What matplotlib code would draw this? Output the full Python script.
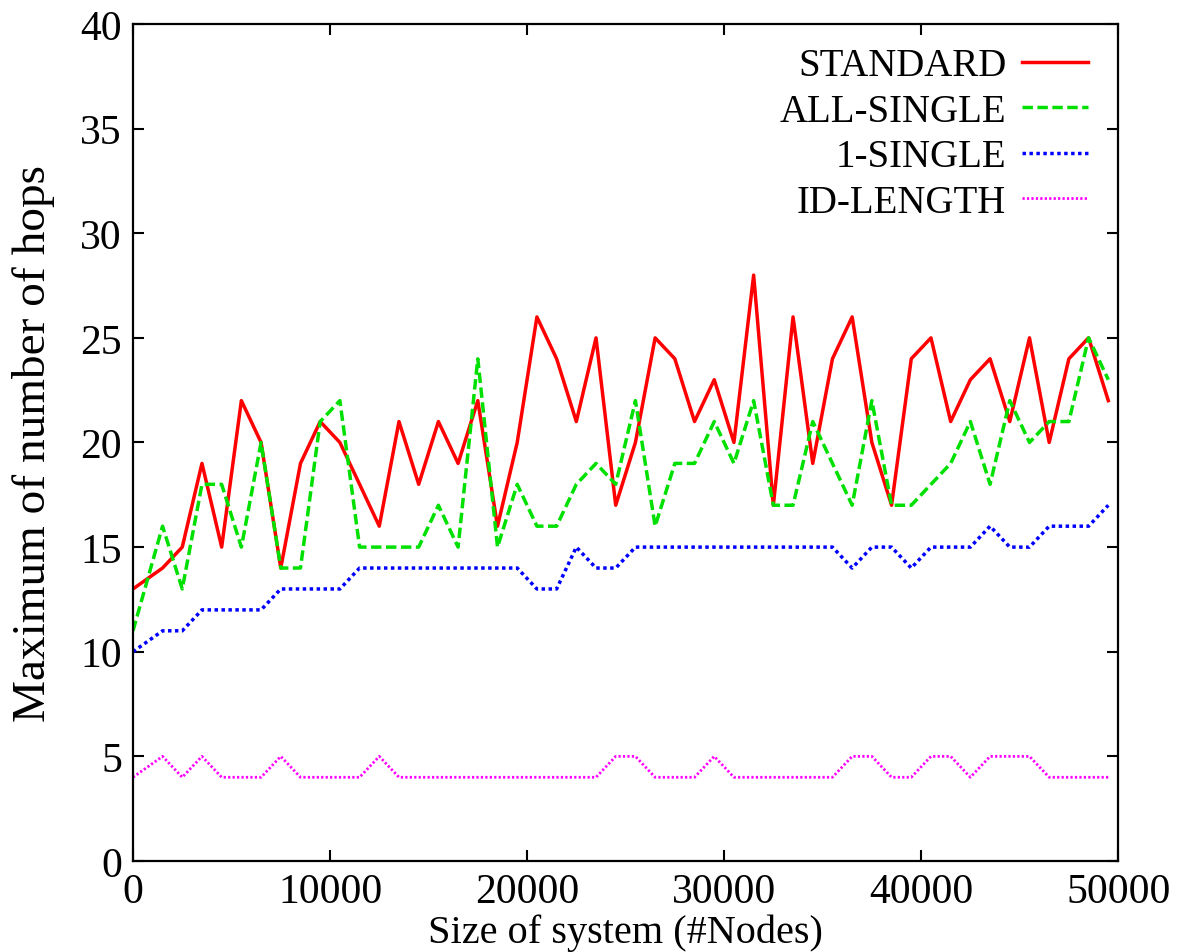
import matplotlib
matplotlib.use("Agg")
import matplotlib.pyplot as plt

plt.rcParams['font.family'] = ['Liberation Serif', 'DejaVu Serif']

# system sizes (#nodes)
nodes = [0, 1500, 2500, 3500, 4500, 5500, 6500, 7500, 8500, 9500,
         10500, 11500, 12500, 13500, 14500, 15500, 16500, 17500, 18500, 19500,
         20500, 21500, 22500, 23500, 24500, 25500, 26500, 27500, 28500, 29500,
         30500, 31500, 32500, 33500, 34500, 35500, 36500, 37500, 38500, 39500,
         40500, 41500, 42500, 43500, 44500, 45500, 46500, 47500, 48500, 49500]

# maximum hop count per routing scheme
standard = [13, 14, 15, 19, 15, 22, 20, 14, 19, 21,
            20, 18, 16, 21, 18, 21, 19, 22, 16, 20,
            26, 24, 21, 25, 17, 20, 25, 24, 21, 23,
            20, 28, 17, 26, 19, 24, 26, 20, 17, 24,
            25, 21, 23, 24, 21, 25, 20, 24, 25, 22]
all_single = [11, 16, 13, 18, 18, 15, 20, 14, 14, 21,
              22, 15, 15, 15, 15, 17, 15, 24, 15, 18,
              16, 16, 18, 19, 18, 22, 16, 19, 19, 21,
              19, 22, 17, 17, 21, 19, 17, 22, 17, 17,
              18, 19, 21, 18, 22, 20, 21, 21, 25, 23]
one_single = [10, 11, 11, 12, 12, 12, 12, 13, 13, 13,
              13, 14, 14, 14, 14, 14, 14, 14, 14, 14,
              13, 13, 15, 14, 14, 15, 15, 15, 15, 15,
              15, 15, 15, 15, 15, 15, 14, 15, 15, 14,
              15, 15, 15, 16, 15, 15, 16, 16, 16, 17]
id_length = [4, 5, 4, 5, 4, 4, 4, 5, 4, 4,
             4, 4, 5, 4, 4, 4, 4, 4, 4, 4,
             4, 4, 4, 4, 5, 5, 4, 4, 4, 5,
             4, 4, 4, 4, 4, 4, 5, 5, 4, 4,
             5, 5, 4, 5, 5, 5, 4, 4, 4, 4]

fig = plt.figure(figsize=(11.77, 9.53), dpi=100)
ax = fig.add_axes([0.113, 0.0955, 0.837, 0.8783])

ax.plot(nodes, standard, color='#ff0000', lw=2.5, label='STANDARD')
ax.plot(nodes, all_single, color='#00e000', lw=2.5, dashes=(3.0, 1.3), label='ALL-SINGLE')
ax.plot(nodes, one_single, color='#0000ff', lw=2.5, dashes=(1.0, 1.0), label='1-SINGLE')
ax.plot(nodes, id_length, color='#ff00ff', lw=2.0, dashes=(0.8, 0.8), label='ID-LENGTH')

ax.set_xlim(0, 50000)
ax.set_ylim(0, 40)
ax.set_xticks(range(0, 50001, 10000))
ax.set_yticks(range(0, 41, 5))
ax.tick_params(direction='in', length=8, width=1.5, top=True, right=True,
               labelsize=30, pad=8)
for s in ax.spines.values():
    s.set_linewidth(1.6)

ax.set_xlabel('Size of system (#Nodes)', fontsize=29, labelpad=2)
ax.set_ylabel('Maximum of number of hops', fontsize=34, labelpad=18)

# key sits in the top right corner, text right-aligned before each sample line
leg = ax.legend(loc='upper right', frameon=False, fontsize=28, markerfirst=False,
                handlelength=1.7, handletextpad=0.4, labelspacing=0.22,
                borderaxespad=0.2, bbox_to_anchor=(0.993, 1.0))

fig.savefig('out.png', dpi=100)
